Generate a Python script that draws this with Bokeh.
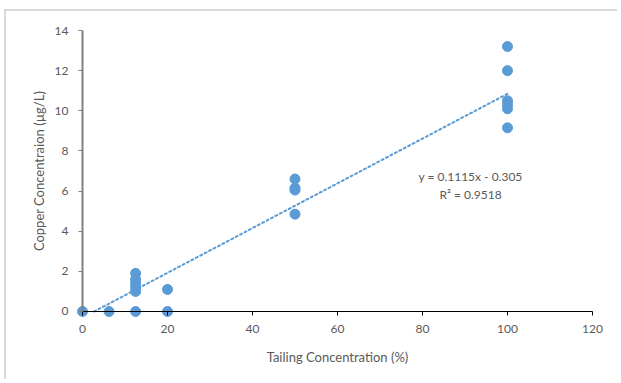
from bokeh.plotting import figure
from bokeh.models import Range1d, FixedTicker, Label, LinearAxis
from bokeh.embed import file_html
from bokeh.resources import INLINE

# data
tailing_pct = [0, 6.25, 12.5, 12.5, 12.5, 12.5, 12.5, 12.5, 20, 20,
               50, 50, 50, 50, 100, 100, 100, 100, 100, 100]
copper_ugL = [0, 0, 0, 1.0, 1.2, 1.4, 1.6, 1.9, 0, 1.1,
              6.6, 6.15, 6.05, 4.85, 13.2, 12.0, 10.5, 10.3, 10.1, 9.15]
slope = 0.1115
intercept = -0.305
r2 = 0.9518
x_ticks = [0, 20, 40, 60, 80, 100, 120]
y_ticks = [0, 2, 4, 6, 8, 10, 12, 14]

trend_x = [-intercept / slope, 100]
trend_y = [slope * v + intercept for v in trend_x]

FONT = "Lato"
GREY = "#595959"
BLUE = "#5b9bd5"

PADX = 6 / 4.25   # half a marker, in data units
PADY = 6 / 20.07

p = figure(width=613, height=370, output_backend="svg", toolbar_location=None,
           x_range=Range1d(-PADX, 120 + PADX), y_range=Range1d(-PADY, 14 + PADY),
           min_border_left=70, min_border_right=21, min_border_top=13, min_border_bottom=64)
p.outline_line_color = None
p.xgrid.visible = False
p.ygrid.visible = False
p.styles = {"border-top": "2px solid #d9d9d9", "border-left": "2px solid #d9d9d9",
            "margin-left": "4px", "margin-top": "9px"}

p.line(trend_x, trend_y, line_color=BLUE, line_width=2, line_dash="2 3", line_cap="round")
p.scatter(tailing_pct, copper_ugL, size=10, fill_color=BLUE, line_color=BLUE)

# axis lines and ticks, drawn at the data origin (no labels)
p.xaxis.ticker = FixedTicker(ticks=x_ticks)
p.yaxis.ticker = FixedTicker(ticks=y_ticks)
p.xaxis.bounds = (0, 120)
p.yaxis.bounds = (0, 14)
p.xaxis.fixed_location = 0
p.yaxis.fixed_location = 0
for ax in (p.xaxis[0], p.yaxis[0]):
    ax.major_label_text_font_size = "1px"
    ax.major_label_text_color = None
    ax.major_label_standoff = 0
    ax.minor_tick_line_color = None
    ax.major_tick_in = 0
    ax.major_tick_out = 4
p.xaxis.axis_line_color = "#000000"
p.xaxis.major_tick_line_color = "#000000"
p.yaxis.axis_line_color = "#7f7f7f"
p.yaxis.axis_line_width = 2
p.yaxis.major_tick_line_color = "#7f7f7f"

# tick labels and titles in the side panels
xlab = LinearAxis(ticker=FixedTicker(ticks=x_ticks), axis_label="Tailing Concentration (%)")
ylab = LinearAxis(ticker=FixedTicker(ticks=y_ticks), axis_label="Copper Concentraion (µg/L)")
for ax in (xlab, ylab):
    ax.axis_line_color = None
    ax.major_tick_line_color = None
    ax.minor_tick_line_color = None
    ax.major_tick_in = 0
    ax.major_tick_out = 0
    ax.axis_label_text_font = FONT
    ax.axis_label_text_font_style = "normal"
    ax.axis_label_text_font_size = "13px"
    ax.axis_label_text_color = GREY
    ax.major_label_text_font = FONT
    ax.major_label_text_font_size = "12px"
    ax.major_label_text_color = GREY
xlab.major_label_standoff = 7
xlab.axis_label_standoff = 13
ylab.major_label_standoff = 8
ylab.axis_label_standoff = 5
p.add_layout(xlab, "below")
p.add_layout(ylab, "left")

p.add_layout(Label(x=91.3, y=6.73, text=f"y = {slope}x - {abs(intercept)}", text_align="center",
                   text_baseline="middle", text_font=FONT, text_font_size="12px", text_color=GREY))
p.add_layout(Label(x=91.3, y=5.83, text=f"R² = {r2}", text_align="center",
                   text_baseline="middle", text_font=FONT, text_font_size="12px", text_color=GREY))

open("out.html", "w").write(file_html(p, INLINE))
